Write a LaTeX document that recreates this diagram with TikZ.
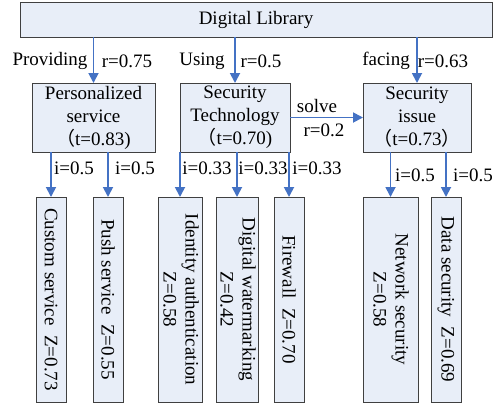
\documentclass[tikz,border=0pt]{standalone}
\usepackage{fontspec}
\setmainfont{Liberation Serif}
\newfontfamily\cjk{Noto Sans CJK SC}
\usetikzlibrary{arrows.meta}
\definecolor{boxfill}{HTML}{E8EEF8}
\definecolor{boxline}{HTML}{404040}
\definecolor{arrowblue}{HTML}{4472C4}
\begin{document}
\begin{tikzpicture}[x=1pt,y=-1pt,
  box/.style={draw=boxline,fill=boxfill,line width=0.9pt,inner sep=0pt,outer sep=0pt,align=center,font=\fontsize{19}{23}\selectfont},
  vtext/.style={rotate=-90,inner sep=0pt,align=center,font=\fontsize{19}{22}\selectfont},
  lbl/.style={inner sep=0pt,font=\fontsize{19}{23}\selectfont},
  arr/.style={draw=arrowblue,line width=1.8pt,-{Triangle[length=10pt,width=10pt]}}]
\useasboundingbox (0,0) rectangle (494,408);
% top
\node[box,minimum width=472pt,minimum height=35pt] (lib) at (256,19.5) {Digital Library};
% middle
\node[box,minimum width=123pt,minimum height=69pt] (pers) at (93.5,117.5) {Personalized\\service\\{\cjk （}t=0.83)};
\node[box,minimum width=110pt,minimum height=69pt] (tech) at (235,117.5) {Security\\Technology\\{\cjk （}t=0.70)};
\node[box,minimum width=108pt,minimum height=69pt] (issue) at (417,117.5) {Security\\issue\\{\cjk （}t=0.73{\cjk ）}};
% bottom boxes
\node[box,minimum width=30pt,minimum height=205pt] (custom) at (51,299.5) {};
\node[box,minimum width=30pt,minimum height=205pt] (push) at (108,299.5) {};
\node[box,minimum width=44pt,minimum height=205pt] (ident) at (180,299.5) {};
\node[box,minimum width=42pt,minimum height=205pt] (water) at (237,299.5) {};
\node[box,minimum width=30pt,minimum height=205pt] (fire) at (289,299.5) {};
\node[box,minimum width=55pt,minimum height=205pt] (net) at (390.5,299.5) {};
\node[box,minimum width=30pt,minimum height=205pt] (data) at (446,299.5) {};
\node[vtext] (tcustom) at (custom.center) {Custom service\ \ Z=0.73};
\node[vtext] (tpush) at (push.center) {Push service\ \ Z=0.55};
\node[vtext] (tident) at (181,299.5) {Identity authentication\\Z=0.58};
\node[vtext] (twater) at (238,299.5) {Digital watermarking\\Z=0.42};
\node[vtext] (tfire) at (fire.center) {Firewall\ \ Z=0.70};
\node[vtext] (tnet) at (391,299.5) {Network security\\Z=0.58};
\node[vtext] (tdata) at (data.center) {Data security\ \ Z=0.69};
% arrows top
\draw[arr] (lib.south -| pers) -- (pers.north);
\draw[arr] (lib.south -| tech) -- (tech.north);
\draw[arr] (lib.south -| issue) -- (issue.north);
\draw[arr] (tech.east) -- (issue.west);
% arrows bottom
\draw[arr] (pers.south -| custom) -- (custom.north);
\draw[arr] (pers.south -| push) -- (push.north);
\draw[arr] (tech.south -| ident) -- (ident.north);
\draw[arr] (tech.south -| water) -- (water.north);
\draw[arr] (tech.south -| fire) -- (fire.north);
\draw[arr] (issue.south -| net) -- (net.north);
\draw[arr] (issue.south -| data) -- (data.north);
% labels
\node[lbl] (l1) at (50,61) {Providing};
\node[lbl] (l2) at (127,61) {r=0.75};
\node[lbl] (l3) at (202,61) {Using};
\node[lbl] (l4) at (261,61) {r=0.5};
\node[lbl] (l5) at (386,61) {facing};
\node[lbl] (l6) at (443,61) {r=0.63};
\node[lbl] (l7) at (317,106) {solve};
\node[lbl] (l8) at (324,130) {r=0.2};
\node[lbl] (l9) at (74,168) {i=0.5};
\node[lbl] (l10) at (135,168) {i=0.5};
\node[lbl] (l11) at (207,168) {i=0.33};
\node[lbl] (l12) at (263,168) {i=0.33};
\node[lbl] (l13) at (317,168) {i=0.33};
\node[lbl] (l14) at (415,175) {i=0.5};
\node[lbl] (l15) at (473,175) {i=0.5};
\end{tikzpicture}
\end{document}
